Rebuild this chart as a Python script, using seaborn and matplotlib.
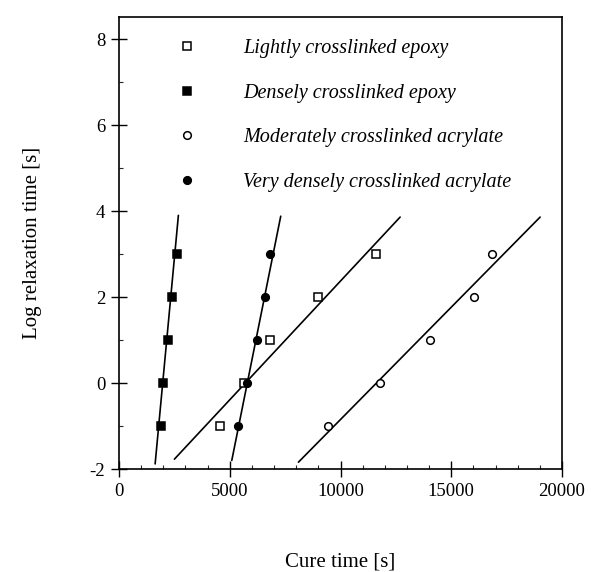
import numpy as np
import pandas as pd
import matplotlib
matplotlib.use('Agg')
import matplotlib.pyplot as plt
import seaborn as sns
from matplotlib.ticker import MultipleLocator

# --- 데이터 ---
LOG_TAU = [-1, 0, 1, 2, 3]

light_epoxy_t = [4560, 5660, 6820, 9000, 11600]
dense_epoxy_t = [1880, 2000, 2230, 2380, 2630]
moderate_acr_t = [9420, 11780, 14040, 16030, 16830]
very_dense_acr_t = [5390, 5770, 6250, 6590, 6820]

SERIES = ['Lightly crosslinked epoxy', 'Densely crosslinked epoxy',
          'Moderately crosslinked acrylate', 'Very densely crosslinked acrylate']

# 직선 피팅 끝점 (cure time, log tau)
fit_t = {
    'Lightly crosslinked epoxy': [2500, 12690],
    'Densely crosslinked epoxy': [1630, 2680],
    'Moderately crosslinked acrylate': [8100, 19010],
    'Very densely crosslinked acrylate': [5090, 7300],
}
fit_y = {
    'Lightly crosslinked epoxy': [-1.77, 3.86],
    'Densely crosslinked epoxy': [-1.88, 3.90],
    'Moderately crosslinked acrylate': [-1.84, 3.86],
    'Very densely crosslinked acrylate': [-1.80, 3.88],
}

pts = pd.DataFrame({
    'cure': light_epoxy_t + dense_epoxy_t + moderate_acr_t + very_dense_acr_t,
    'logtau': LOG_TAU * 4,
    'series': np.repeat(SERIES, len(LOG_TAU)),
})
lines = pd.DataFrame({
    'cure': sum((fit_t[s] for s in SERIES), []),
    'logtau': sum((fit_y[s] for s in SERIES), []),
    'series': np.repeat(SERIES, 2),
})

# --- 스타일 ---
sns.set_style('ticks')
plt.rcParams['font.family'] = ['Liberation Serif', 'DejaVu Serif']
plt.rcParams['axes.unicode_minus'] = False
plt.rcParams['text.color'] = 'black'
plt.rcParams['axes.labelcolor'] = 'black'

fig = plt.figure(figsize=(5.91, 5.72), dpi=100)
ax = fig.add_axes([0.2014, 0.180, 0.7496, 0.790])

# 피팅 직선
sns.lineplot(data=lines, x='cure', y='logtau', units='series', estimator=None,
             color='black', lw=1.2, sort=False, ax=ax, legend=False)

# 데이터 점
markers = {SERIES[0]: 's', SERIES[1]: 's', SERIES[2]: 'o', SERIES[3]: 'o'}
faces = {SERIES[0]: 'white', SERIES[1]: 'black', SERIES[2]: 'white', SERIES[3]: 'black'}
sizes = {SERIES[0]: 6.0, SERIES[1]: 6.0, SERIES[2]: 5.5, SERIES[3]: 5.5}
for s in SERIES:
    d = pts[pts['series'] == s]
    ax.plot(d['cure'], d['logtau'], ls='none', marker=markers[s], ms=sizes[s],
            mfc=faces[s], mec='black', mew=1.1, label=s, zorder=3)

ax.set_xlim(0, 20000)
ax.set_ylim(-2, 8.51)
ax.set_xticks([0, 5000, 10000, 15000, 20000])
ax.set_yticks([-2, 0, 2, 4, 6, 8])
ax.xaxis.set_minor_locator(MultipleLocator(1000))
ax.yaxis.set_minor_locator(MultipleLocator(1))
ax.tick_params(which='major', direction='inout', length=12, width=1.0,
               labelsize=13.5, colors='black', pad=4)
ax.tick_params(which='minor', direction='in', length=3, width=0.8)
for sp in ax.spines.values():
    sp.set_visible(True)
    sp.set_color('black')
    sp.set_linewidth(1.2)

ax.set_xlabel('Cure time [s]', fontsize=15, labelpad=38)
ax.set_ylabel('Log relaxation time [s]', fontsize=15, labelpad=34)

leg = ax.legend(loc='upper left', bbox_to_anchor=(0.108, 0.952), frameon=False,
                numpoints=1, handlelength=2.0, handletextpad=1.8,
                labelspacing=1.27, borderaxespad=0, borderpad=0,
                prop={'family': 'Liberation Serif', 'style': 'italic', 'size': 14.5})
for t in leg.get_texts():
    t.set_color('black')

fig.savefig('out.png', dpi=100)
